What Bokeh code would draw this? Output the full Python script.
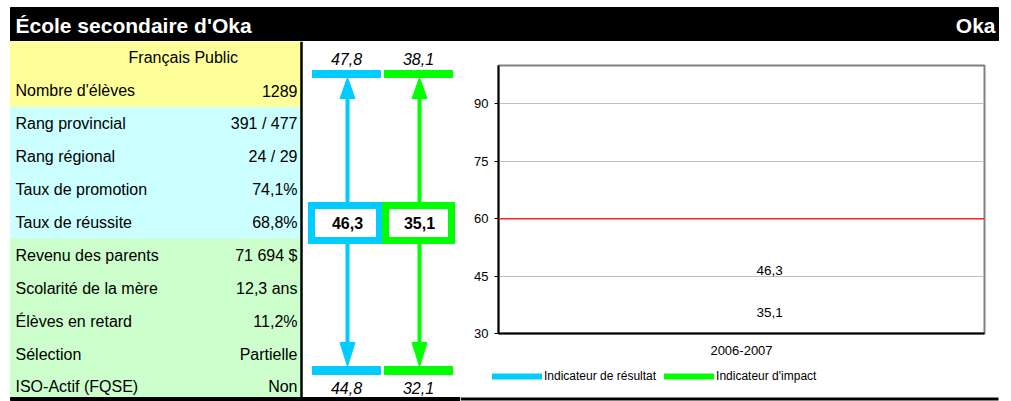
from bokeh.plotting import figure
from bokeh.layouts import column, row
from bokeh.models import (Range1d, FactorRange, Span, Legend, LegendItem, ColumnDataSource,
                          BoxAnnotation)
from bokeh.core.properties import value
from bokeh.embed import file_html
from bokeh.resources import INLINE

# ---------------- data ----------------
school = "École secondaire d'Oka"
city = "Oka"
header = "Français  Public"
row_labels = ["Nombre d'élèves", "Rang provincial", "Rang régional", "Taux de promotion",
              "Taux de réussite", "Revenu des parents", "Scolarité de la mère",
              "Élèves en retard", "Sélection", "ISO-Actif (FQSE)"]
row_values = ["1289", "391 / 477", "24 / 29", "74,1%", "68,8%", "71 694 $", "12,3 ans",
              "11,2%", "Partielle", "Non"]
row_groups = ["y", "c", "c", "c", "c", "g", "g", "g", "g", "g"]

years = ["2006-2007"]
resultat = [46.3]
impact = [35.1]
resultat_high = [47.8]
resultat_low = [44.8]
impact_high = [38.1]
impact_low = [32.1]
threshold = 60
y_ticks = [30, 45, 60, 75, 90]
series_names = ["Indicateur de résultat", "Indicateur d'impact"]

# ---------------- styles ----------------
FONT = "Liberation Sans"
BLUE = "#00CCFF"
GREEN = "#00FF00"
fills = {"y": "#FFFF99", "c": "#CCFFFF", "g": "#CCFFCC"}


def fmt(v):
    return f"{v:.1f}".replace(".", ",")


def unalign(fig):
    if "frame_align" in fig.properties():
        fig.frame_align = False


def blank(fig):
    fig.axis.visible = False
    fig.grid.visible = False
    fig.outline_line_color = None
    fig.min_border = 0
    fig.background_fill_color = "white"
    fig.border_fill_color = "white"
    unalign(fig)


# ---------------- title bar ----------------
t = figure(width=1011, height=41, x_range=Range1d(0, 1011), y_range=Range1d(41, 0), title=None,
           output_backend="svg", toolbar_location=None)
blank(t)
t.quad(left=[10], right=[998], top=[7], bottom=[41], color="black")
t.text(x=[15], y=[24.5], text=[school], text_color="white", text_font=value(FONT),
       text_font_style="bold", text_font_size="21px", text_align="left", text_baseline="middle")
t.text(x=[995], y=[24.5], text=[city], text_color="white", text_font=value(FONT),
       text_font_style="bold", text_font_size="21px", text_align="right", text_baseline="middle")

# ---------------- left table + arrows (with bottom rule) ----------------
TOP, BOT = 41, 397
RH = 32.9
tops = [TOP + RH * i for i in range(11)]
bots = tops[1:] + [BOT]
centers = [tp + RH / 2 for tp in tops[:10]] + [386]

L = figure(width=460, height=360, x_range=Range1d(0, 460), y_range=Range1d(401, TOP), title=None,
           output_backend="svg", toolbar_location=None)
blank(L)
cols = [fills["y"]] + [fills[g] for g in row_groups]
L.quad(left=[10] * 11, right=[300] * 11, top=tops, bottom=bots, color=cols)
L.text(x=[185], y=[centers[0]], text=[header], text_font=value(FONT), text_font_size="16px",
       text_align="center", text_baseline="middle", text_color="black")
L.text(x=[15] * 10, y=centers[1:], text=row_labels, text_font=value(FONT), text_font_size="16px",
       text_align="left", text_baseline="middle", text_color="black")
L.text(x=[297] * 10, y=centers[1:], text=row_values, text_font=value(FONT), text_font_size="16px",
       text_align="right", text_baseline="middle", text_color="black")
L.segment(x0=[301], y0=[TOP], x1=[301], y1=[BOT], line_color="black", line_width=2.5)
L.quad(left=[10], right=[460], top=[397], bottom=[400], color="black")

arrow_cols = [
    (346, 308, 382, BLUE, resultat[0], resultat_high[0], resultat_low[0]),
    (418, 382, 454, GREEN, impact[0], impact_high[0], impact_low[0]),
]
box_top, box_bot, box_mid = 202, 243, 222.5
tb_top, tb_bot = 70, 77
bb_top, bb_bot = 366, 374
for cx, bx0, bx1, colr, mid, hi, lo in arrow_cols:
    L.quad(left=[cx - 34], right=[cx + 34], top=[tb_top], bottom=[tb_bot], color=colr)
    L.quad(left=[cx - 34], right=[cx + 34], top=[bb_top], bottom=[bb_bot], color=colr)
    L.segment(x0=[cx + 1, cx + 1], y0=[box_top, box_bot], x1=[cx + 1, cx + 1],
              y1=[tb_bot + 20, bb_top - 22], line_color=colr, line_width=4)
    L.patches(xs=[[cx + 1, cx - 6.5, cx + 8.5], [cx + 1, cx - 6.5, cx + 8.5]],
              ys=[[tb_bot, tb_bot + 21, tb_bot + 21], [bb_top, bb_top - 24, bb_top - 24]],
              color=colr)
    L.quad(left=[bx0], right=[bx1], top=[box_top], bottom=[box_bot], color=colr)
    L.quad(left=[bx0 + 7], right=[bx1 - 7], top=[box_top + 7], bottom=[box_bot - 7], color="white")
    L.text(x=[cx + 1], y=[box_mid], text=[fmt(mid)], text_font=value(FONT), text_font_size="16px",
           text_font_style="bold", text_align="center", text_baseline="middle", text_color="black")
    L.text(x=[cx], y=[58], text=[fmt(hi)], text_font=value(FONT), text_font_size="16px",
           text_font_style="italic", text_align="center", text_baseline="middle", text_color="black")
    L.text(x=[cx], y=[387], text=[fmt(lo)], text_font=value(FONT), text_font_size="16px",
           text_font_style="italic", text_align="center", text_baseline="middle", text_color="black")

# ---------------- chart ----------------
C = figure(frame_width=486, frame_height=268, x_range=FactorRange(*years), y_range=Range1d(30, 100),
           title=None, output_backend="svg", toolbar_location=None)
unalign(C)
C.min_border_left = 38
C.min_border_right = 27
C.min_border_top = 24
C.min_border_bottom = 30
C.background_fill_color = "white"
C.border_fill_color = "white"
C.outline_line_color = "#808080"
C.outline_line_width = 2
C.xgrid.visible = False
C.ygrid.ticker = y_ticks
C.ygrid.grid_line_color = "#C0C0C0"
C.yaxis.ticker = y_ticks
C.yaxis.axis_line_color = "black"
C.yaxis.axis_line_width = 2
C.yaxis.major_tick_in = 0
C.yaxis.major_tick_out = 4
C.yaxis.major_tick_line_color = "black"
C.yaxis.minor_tick_line_color = None
C.yaxis.major_label_standoff = 6
C.yaxis.major_label_text_font = FONT
C.yaxis.major_label_text_font_size = "13px"
C.yaxis.major_label_text_color = "black"
C.xaxis.axis_line_color = "black"
C.xaxis.axis_line_width = 2
C.xaxis.major_tick_line_color = None
C.xaxis.minor_tick_line_color = None
C.xaxis.major_label_standoff = 6
C.xaxis.major_label_text_font = FONT
C.xaxis.major_label_text_font_size = "13px"
C.xaxis.major_label_text_color = "black"

C.add_layout(Span(location=threshold, dimension="width", line_color="#FF2020", line_width=1.5))

src = ColumnDataSource(dict(x=years, r=resultat, i=impact,
                            rl=[fmt(v) for v in resultat], il=[fmt(v) for v in impact]))
C.line(x="x", y="r", source=src, line_color=BLUE, line_width=6, line_cap="round")
C.line(x="x", y="i", source=src, line_color=GREEN, line_width=6, line_cap="round")
C.text(x="x", y="r", text="rl", source=src, x_offset=15, y_offset=-1, text_align="left",
       text_baseline="middle", text_font=value(FONT), text_font_size="13.5px", text_color="black")
C.text(x="x", y="i", text="il", source=src, x_offset=15, y_offset=-1, text_align="left",
       text_baseline="middle", text_font=value(FONT), text_font_size="13.5px", text_color="black")

# ---------------- legend strip (same series) + bottom rule ----------------
G = figure(width=551, height=38, x_range=FactorRange(*years), y_range=Range1d(401, 363), title=None,
           output_backend="svg", toolbar_location=None)
blank(G)
g1 = G.line(x="x", y="r", source=src, line_color=BLUE, line_width=6, line_cap="round")
g2 = G.line(x="x", y="i", source=src, line_color=GREEN, line_width=6, line_cap="round")
G.add_layout(BoxAnnotation(left=0, right=(998 - 460) / 551, top=397, bottom=400,
                           fill_color="black", fill_alpha=1, line_color=None))
legend = Legend(items=[LegendItem(label=series_names[0], renderers=[g1]),
                       LegendItem(label=series_names[1], renderers=[g2])],
                orientation="horizontal", location=(32, 18), glyph_width=50, glyph_height=12,
                label_standoff=2, spacing=8, padding=0, margin=0, border_line_color=None,
                background_fill_alpha=0, label_text_font=FONT, label_text_font_size="12px",
                label_text_color="black")
G.add_layout(legend)

layout = column(t, row(L, column(C, G, spacing=0), spacing=0), spacing=0)
open("out.html", "w").write(file_html(layout, INLINE))
